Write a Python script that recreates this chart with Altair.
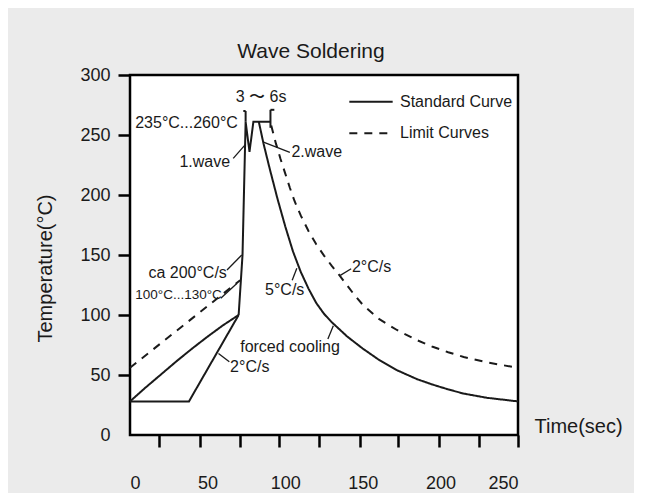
import altair as alt
import pandas as pd

FONT = "Liberation Sans"
INK = "#1a1a1a"

# ---- curve data (time in s, temperature in °C) ----
pre_a_t = [0, 10, 20, 30, 40, 50, 60, 70]
pre_a_y = [28, 39.5, 50.5, 61.5, 72, 82, 91.5, 100]
pre_b_t = [0, 38, 70]
pre_b_y = [28, 28, 100]
rise_t = [70, 72.5, 74.5, 77, 79.5, 90.5]
rise_y = [100, 150, 261, 236, 261, 261]
cool_std_t = [83, 86, 90, 95, 100, 105, 110, 115, 120, 125, 130, 140, 150, 160,
              172, 185, 195, 205, 215, 230, 250]
cool_std_y = [261, 243, 222, 197, 174, 153, 136, 122, 110, 101, 94, 82, 72, 63,
              54, 46.5, 42, 38, 34.5, 31, 28]
lim_pre_t = [0, 71]
lim_pre_y = [56, 129]
lim_cool_t = [91, 94, 97, 100, 103, 106, 110, 115, 120, 125, 130, 135, 140, 145,
              150, 160, 172, 185, 195, 205, 215, 230, 250]
lim_cool_y = [258, 243, 230, 218, 206, 195, 183, 170, 159, 149.5, 141, 133, 124.5,
              116, 108.5, 97, 87.5, 79, 73.5, 69, 65, 60.5, 56]

kinds = ["Standard Curve", "Limit Curves"]

# brackets (x, y, x2, y2)
br_x = [73, 74.5, 90.5, 90.5]
br_y = [270, 270, 271, 271]
br_x2 = [74.5, 74.5, 90.5, 93]
br_y2 = [270, 261, 256, 271]

# annotation leader lines (x, y, x2, y2)
ld_x = [66.5, 86, 62.5, 58.5, 104.5, 135.5, 127.5, 57]
ld_y = [230.5, 244, 137.5, 114, 129, 133, 80, 68]
ld_x2 = [74.3, 103, 72, 69, 107.5, 142.5, 131, 64]
ld_y2 = [242, 235.5, 150, 126.5, 139, 138.5, 91, 61]

# annotations
txt_r = ["235°C...260°C", "1.wave", "ca 200°C/s"]
txt_r_x = [69.5, 64.5, 62.4]
txt_r_y = [259.7, 227.8, 134.7]
txt_s = ["100°C...130°C"]
txt_s_x = [59.2]
txt_s_y = [116.7]
txt_l = ["2.wave", "5°C/s", "2°C/s", "forced cooling", "2°C/s"]
txt_l_x = [104, 87, 143, 71, 64.5]
txt_l_y = [235.5, 121, 140, 73.6, 56.4]
txt_c = ["3 〜 6s"]
txt_c_x = [84.5]
txt_c_y = [282]

# axes
x_tick_marks = [19, 45, 71, 96, 122, 148, 173, 199, 225, 250]
x_labels = [0, 50, 100, 150, 200, 250]
y_tick_marks = [50, 100, 150, 200, 250, 300]
y_labels = [0, 50, 100, 150, 200, 250, 300]

# ---- tables ----
rows = []
def add(seg, kind, ts, ys):
    for i, (t, y) in enumerate(zip(ts, ys)):
        rows.append({"seg": seg, "kind": kind, "t": t, "temp": y, "ord": i})

add("pre_a", kinds[0], pre_a_t, pre_a_y)
add("pre_b", kinds[0], pre_b_t, pre_b_y)
add("rise", kinds[0], rise_t, rise_y)
add("cool", kinds[0], cool_std_t, cool_std_y)
add("lim_pre", kinds[1], lim_pre_t, lim_pre_y)
add("lim_cool", kinds[1], lim_cool_t, lim_cool_y)
curves = pd.DataFrame(rows)

brackets = pd.DataFrame({"x": br_x, "y": br_y, "x2": br_x2, "y2": br_y2})
leaders = pd.DataFrame({"x": ld_x, "y": ld_y, "x2": ld_x2, "y2": ld_y2})

xs = alt.Scale(domain=[0, 250], nice=False, zero=False)
ys = alt.Scale(domain=[0, 300], nice=False, zero=False)

lines = alt.Chart(curves).mark_line(strokeWidth=2, color=INK).encode(
    x=alt.X("t:Q", scale=xs, axis=alt.Axis(
        orient="bottom", values=x_tick_marks, labels=False, domain=False, grid=False,
        tickSize=12, tickWidth=2.5, tickColor="black",
        title="Time(sec)", titleX=404, titleY=-8.6, titleAlign="left",
        titleBaseline="middle", titleFontSize=20, titleFontWeight="normal",
        titleFont=FONT, titleColor=INK)),
    y=alt.Y("temp:Q", scale=ys, axis=alt.Axis(
        orient="left", values=y_tick_marks, labels=False, domain=False, grid=False,
        tickSize=12, tickWidth=2.5, tickColor="black",
        title="Temperature(°C)", titleX=-85, titleY=193, titleAngle=-90,
        titleAlign="center", titleBaseline="middle", titleFontSize=20,
        titleFontWeight="normal", titleFont=FONT, titleColor=INK)),
    strokeDash=alt.StrokeDash("kind:N", scale=alt.Scale(domain=kinds, range=[[1, 0], [8, 7]]),
        legend=alt.Legend(title=None, orient="none", legendX=218, legendY=16.7,
                          symbolType="stroke", symbolSize=1880, symbolStrokeWidth=2,
                          symbolStrokeColor=INK, labelFontSize=16, labelFont=FONT,
                          labelColor=INK, labelOffset=6, rowPadding=11.6, clipHeight=20)),
    detail="seg:N",
    order="ord:Q",
)

br = alt.Chart(brackets).mark_rule(strokeWidth=2, color=INK).encode(
    x=alt.X("x:Q", scale=xs, axis=None), y=alt.Y("y:Q", scale=ys, axis=None),
    x2="x2:Q", y2="y2:Q")

ld = alt.Chart(leaders).mark_rule(strokeWidth=1.3, color=INK).encode(
    x=alt.X("x:Q", scale=xs, axis=alt.Axis(
        orient="bottom", values=x_labels, ticks=False, domain=False, grid=False, tickSize=0,
        labelFontSize=18, labelFont=FONT, labelColor=INK, labelPadding=48,
        labelBaseline="middle", title=None)),
    y=alt.Y("y:Q", scale=ys, axis=alt.Axis(
        orient="left", values=y_labels, ticks=False, domain=False, grid=False, tickSize=0,
        labelFontSize=18, labelFont=FONT, labelColor=INK, labelPadding=20,
        labelBaseline="middle", title=None)),
    x2="x2:Q", y2="y2:Q")

def texts(labels, tx, ty, align, size):
    df = pd.DataFrame({"label": labels, "x": tx, "y": ty})
    return alt.Chart(df).mark_text(align=align, baseline="middle", fontSize=size,
                                   font=FONT, color=INK).encode(
        x=alt.X("x:Q", scale=xs, axis=None), y=alt.Y("y:Q", scale=ys, axis=None),
        text="label:N")

chart = alt.layer(
    lines, br, ld,
    texts(txt_r, txt_r_x, txt_r_y, "right", 16),
    texts(txt_s, txt_s_x, txt_s_y, "right", 13.5),
    texts(txt_l, txt_l_x, txt_l_y, "left", 16),
    texts(txt_c, txt_c_x, txt_c_y, "center", 16),
).resolve_axis(x="independent", y="independent").properties(
    width=388, height=360,
    title=alt.TitleParams("Wave  Soldering", fontSize=21, fontWeight="normal", font=FONT,
                          color=INK, dx=-13, offset=-13, frame="group", anchor="middle",
                          baseline="alphabetic"),
    autosize=alt.AutoSizeParams(type="none"),
    padding={"left": 122, "top": 67, "right": 116, "bottom": 58},
    background="#ebebeb",
).configure_view(stroke="black", strokeWidth=2.5, fill="white")

chart.save("out.html", embed_options={"renderer": "svg", "actions": False})
